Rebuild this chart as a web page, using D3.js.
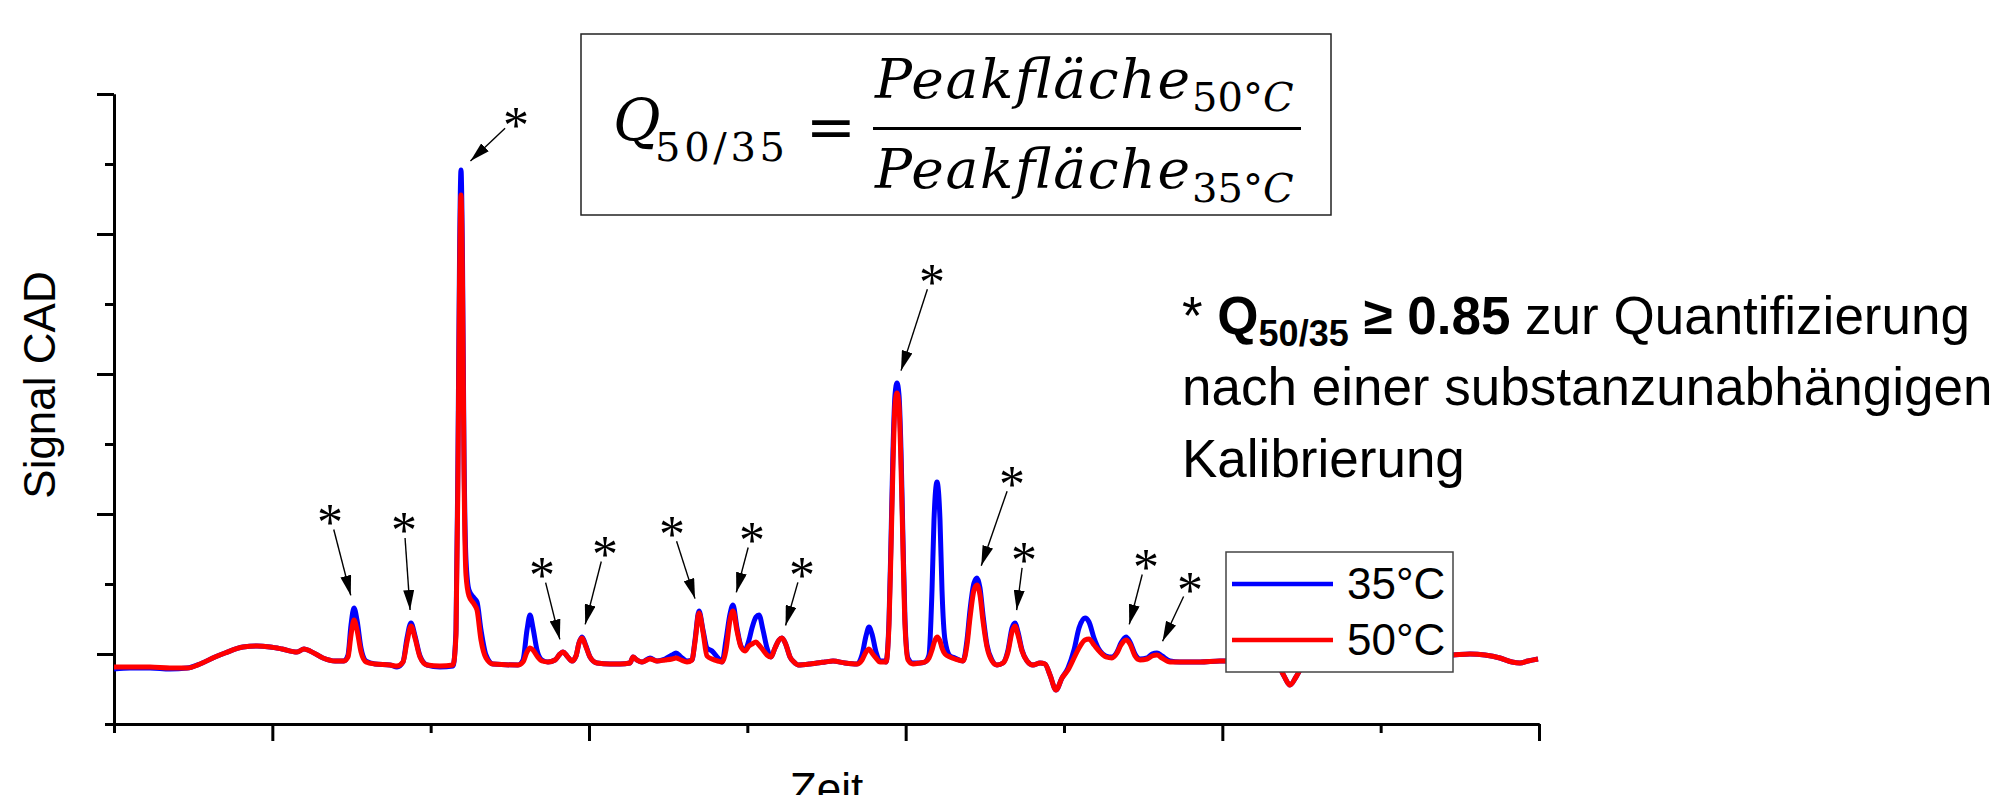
<!DOCTYPE html>
<html>
<head>
<meta charset="utf-8">
<script src="https://cdn.jsdelivr.net/npm/d3@7"></script>
<style>
body { margin: 0; background: #fff; }
svg text { font-family: "Liberation Sans", Arial, sans-serif; white-space: pre; }
</style>
</head>
<body>
<div id="vizDiv"></div>
<script>
var width = 1994
var height = 795

// retention time (min) and CAD signal for both column temperatures
var time = [
  0, 0.32, 0.72, 1.12, 1.46, 1.72, 2.02, 2.22, 2.58, 2.86,
  3.12, 3.36, 3.66, 3.80, 3.92, 4.18, 4.42, 4.60, 4.68, 4.74,
  4.80, 4.86, 4.94, 5.04, 5.22, 5.52, 5.66, 5.78, 5.86, 5.94,
  6.02, 6.12, 6.26, 6.52, 6.78, 6.84, 6.88, 6.91, 6.94, 6.97,
  7.00, 7.04, 7.10, 7.20, 7.26, 7.34, 7.44, 7.58, 8.08, 8.18,
  8.26, 8.32, 8.38, 8.46, 8.56, 8.68, 8.82, 8.92, 8.98, 9.06,
  9.16, 9.24, 9.30, 9.36, 9.44, 9.52, 9.66, 9.92, 10.12, 10.32,
  10.38, 10.46, 10.56, 10.72, 10.86, 11.02, 11.16, 11.24, 11.34, 11.46,
  11.56, 11.62, 11.70, 11.78, 11.86, 11.96, 12.08, 12.16, 12.24, 12.32,
  12.38, 12.46, 12.54, 12.62, 12.70, 12.76, 12.84, 12.90, 12.98, 13.06,
  13.14, 13.22, 13.30, 13.36, 13.44, 13.52, 13.62, 13.68, 13.92, 14.06,
  14.22, 14.38, 14.62, 14.86, 14.96, 15.04, 15.10, 15.16, 15.24, 15.32,
  15.40, 15.44, 15.50, 15.54, 15.58, 15.62, 15.66, 15.70, 15.74, 15.78,
  15.82, 15.88, 15.98, 16.12, 16.22, 16.30, 16.36, 16.40, 16.46, 16.52,
  16.56, 16.62, 16.72, 16.82, 16.98, 17.06, 17.12, 17.20, 17.26, 17.32,
  17.38, 17.46, 17.56, 17.66, 17.78, 17.88, 17.96, 18.02, 18.08, 18.16,
  18.26, 18.38, 18.52, 18.62, 18.72, 18.84, 18.96, 19.08, 19.20, 19.30,
  19.42, 19.50, 19.60, 19.72, 19.84, 19.96, 20.06, 20.14, 20.24, 20.32,
  20.42, 20.52, 20.66, 20.76, 20.86, 20.96, 21.12, 21.32, 21.72, 22.12,
  22.52, 23.12, 23.28, 23.40, 23.52, 23.64, 23.78, 23.92, 24.32, 24.92,
  25.72, 26.78, 27.12, 27.42, 27.72, 27.96, 28.12, 28.28, 28.48
]

var sig35 = [
  5.5, 5.6, 5.6, 5.5, 5.6, 6.0, 6.7, 7.1, 7.7, 7.8,
  7.7, 7.5, 7.2, 7.5, 7.3, 6.6, 6.3, 6.3, 6.9, 9.9,
  11.6, 10.4, 7.6, 6.3, 6.0, 5.9, 5.7, 6.2, 8.6, 10.1,
  8.8, 6.8, 5.9, 5.7, 5.8, 9.4, 27.4, 46.4, 55.4, 46.4,
  27.4, 16.4, 13.4, 12.6, 12.2, 9.4, 6.9, 6.0, 5.9, 6.4,
  9.4, 10.9, 9.6, 7.4, 6.4, 6.2, 6.4, 7.0, 7.2, 6.8,
  6.3, 6.8, 8.1, 8.7, 7.8, 6.7, 6.1, 6.0, 6.0, 6.1,
  6.7, 6.4, 6.2, 6.6, 6.3, 6.5, 6.9, 7.1, 6.7, 6.3,
  6.4, 8.4, 11.3, 9.4, 7.6, 7.3, 6.6, 6.2, 8.4, 11.0,
  11.9, 9.6, 7.8, 7.4, 8.4, 9.6, 10.7, 10.9, 9.4, 7.6,
  6.7, 7.6, 8.4, 8.6, 7.9, 6.7, 6.1, 5.9, 6.0, 6.1,
  6.2, 6.3, 6.1, 6.0, 6.9, 8.8, 9.7, 9.0, 7.2, 6.3,
  6.3, 6.2, 10.4, 18.4, 27.4, 32.9, 34.1, 32.9, 27.4, 18.4,
  10.4, 6.6, 6.1, 6.1, 6.2, 6.9, 13.4, 20.4, 24.2, 20.4,
  13.4, 8.4, 6.8, 6.6, 6.3, 8.4, 11.4, 14.1, 14.6, 13.6,
  10.9, 7.9, 6.4, 5.9, 6.1, 7.4, 9.6, 10.1, 9.2, 7.4,
  6.3, 5.9, 6.1, 6.0, 4.9, 3.4, 4.6, 5.6, 7.4, 9.6,
  10.6, 10.2, 8.6, 7.3, 6.8, 6.7, 7.2, 8.1, 8.7, 8.2,
  7.0, 6.5, 6.6, 7.0, 7.1, 6.8, 6.3, 6.2, 6.2, 6.3,
  6.3, 6.3, 5.9, 4.8, 3.9, 4.7, 5.9, 6.4, 6.5, 6.6,
  6.7, 6.9, 7.0, 6.9, 6.6, 6.2, 6.1, 6.3, 6.5
]

var sig50 = [
  5.7, 5.7, 5.7, 5.6, 5.6, 6.0, 6.7, 7.1, 7.7, 7.8,
  7.7, 7.5, 7.2, 7.5, 7.3, 6.6, 6.3, 6.3, 6.7, 8.9,
  10.4, 9.4, 7.2, 6.2, 6.0, 5.9, 5.8, 6.2, 8.2, 9.8,
  8.6, 6.7, 5.9, 5.8, 5.9, 8.9, 25.4, 43.9, 52.9, 43.9,
  25.4, 14.9, 12.8, 12.0, 11.4, 8.4, 6.6, 6.0, 5.9, 6.2,
  7.2, 7.6, 7.4, 6.8, 6.3, 6.2, 6.4, 7.0, 7.2, 6.8,
  6.3, 6.8, 8.1, 8.6, 7.7, 6.7, 6.1, 6.0, 6.0, 6.1,
  6.7, 6.4, 6.2, 6.5, 6.3, 6.4, 6.5, 6.6, 6.4, 6.2,
  6.4, 8.2, 11.1, 9.2, 6.8, 6.5, 6.3, 6.2, 7.4, 10.4,
  11.3, 9.3, 7.7, 7.3, 7.8, 8.0, 8.2, 7.9, 7.4, 6.9,
  6.7, 7.6, 8.4, 8.6, 7.9, 6.7, 6.1, 5.9, 6.0, 6.1,
  6.2, 6.3, 6.1, 6.0, 6.4, 7.2, 7.5, 7.1, 6.6, 6.2,
  6.2, 6.2, 9.9, 17.4, 25.9, 31.9, 33.1, 31.9, 25.9, 17.4,
  9.9, 6.4, 6.0, 6.1, 6.2, 6.6, 7.4, 8.1, 8.7, 8.3,
  7.6, 7.0, 6.7, 6.5, 6.3, 7.9, 10.6, 13.4, 13.9, 12.9,
  10.3, 7.7, 6.3, 5.9, 6.1, 7.2, 9.2, 9.8, 8.9, 7.3,
  6.3, 5.9, 6.1, 6.0, 4.9, 3.4, 4.6, 5.4, 6.6, 7.6,
  8.4, 8.5, 7.9, 7.2, 6.7, 6.6, 7.1, 7.9, 8.4, 8.0,
  6.8, 6.4, 6.5, 6.8, 6.9, 6.6, 6.2, 6.2, 6.2, 6.3,
  6.3, 6.3, 5.9, 4.8, 3.9, 4.7, 5.9, 6.4, 6.5, 6.6,
  6.7, 6.9, 7.0, 6.9, 6.6, 6.2, 6.1, 6.3, 6.5
]

var seriesNames = ["35°C", "50°C"]
var seriesColors = ["#0000ff", "#ff0000"]

// unlabeled ticks, every other one is a major tick
var xTicks = d3.range(10).map(function(i) { return i * 28.5 / 9 })
var yTicks = d3.range(10).map(function(i) { return i * 63 / 9 })

// peaks with Q >= 0.85 (retention times)
var markedPeaks = [4.80, 5.94, 6.94, 8.98, 9.36, 11.70, 12.38, 13.36, 15.66, 17.26, 18.02, 20.24, 20.86]
// star position relative to the peak top (px)
var starOffset = [[-24, -93], [-7, -100], [55, -52], [-21, -84], [23, -90], [-27, -84], [19, -72],
                  [20, -70], [35, -108], [35, -101], [9, -70], [20, -77], [33, -70]]

var plotLeft = 114, plotRight = 1539, plotTop = 94, plotBottom = 724

var x = d3.scaleLinear().domain([0, 28.5]).range([plotLeft, plotRight])
var y = d3.scaleLinear().domain([0, 63]).range([plotBottom, plotTop])

var svg = d3.select("#vizDiv")
  .append("svg")
  .attr("width", width)
  .attr("height", height)
  .style("display", "block")
  .style("background", "#fff")

svg.append("defs")
  .append("marker")
  .attr("id", "arrowHead")
  .attr("viewBox", [0, 0, 20, 11])
  .attr("refX", 20)
  .attr("refY", 5.5)
  .attr("markerWidth", 20)
  .attr("markerHeight", 11)
  .attr("markerUnits", "userSpaceOnUse")
  .attr("orient", "auto")
  .append("path")
  .attr("d", "M0,0L20,5.5L0,11Z")
  .attr("fill", "black")

// axes: minor ticks first, then major ticks with the axis line
var majorX = xTicks.filter(function(d, i) { return i % 2 == 1 })
var minorX = xTicks.filter(function(d, i) { return i % 2 == 0 })
var majorY = yTicks.filter(function(d, i) { return i % 2 == 1 })
var minorY = yTicks.filter(function(d, i) { return i % 2 == 0 })

function styleAxis(g) {
  g.selectAll("path, line").attr("stroke", "black").attr("stroke-width", 3)
  g.selectAll("text").remove()
}

svg.append("g")
  .attr("transform", "translate(0," + plotBottom + ")")
  .call(d3.axisBottom(x).tickValues(minorX).tickSize(9).tickSizeOuter(0).tickFormat(""))
  .call(styleAxis)
svg.append("g")
  .attr("transform", "translate(0," + plotBottom + ")")
  .call(d3.axisBottom(x).tickValues(majorX).tickSize(17).tickSizeOuter(0).tickFormat(""))
  .call(styleAxis)
svg.append("g")
  .attr("transform", "translate(" + plotLeft + ",0)")
  .call(d3.axisLeft(y).tickValues(minorY).tickSize(9).tickSizeOuter(0).tickFormat(""))
  .call(styleAxis)
svg.append("g")
  .attr("transform", "translate(" + plotLeft + ",0)")
  .call(d3.axisLeft(y).tickValues(majorY).tickSize(17).tickSizeOuter(0).tickFormat(""))
  .call(styleAxis)

svg.append("text")
  .attr("transform", "translate(55,385) rotate(-90)")
  .attr("text-anchor", "middle")
  .style("font-size", "44px")
  .text("Signal CAD")

svg.append("text")
  .attr("x", (plotLeft + plotRight) / 2)
  .attr("y", 804)
  .attr("text-anchor", "middle")
  .style("font-size", "44px")
  .text("Zeit")

// chromatograms
var series = [sig35, sig50]
var line = d3.line()
  .x(function(d, i) { return x(time[i]) })
  .y(function(d) { return y(d) })
  .curve(d3.curveMonotoneX)

series.forEach(function(s, k) {
  svg.append("path")
    .attr("d", line(s))
    .attr("fill", "none")
    .attr("stroke", seriesColors[k])
    .attr("stroke-width", 5)
    .attr("stroke-linejoin", "round")
})

// stars with arrows to the marked peaks
markedPeaks.forEach(function(t, k) {
  var idx = d3.minIndex(time, function(v) { return Math.abs(v - t) })
  var px = x(time[idx]), py = y(sig35[idx])
  var sx = px + starOffset[k][0], sy = py + starOffset[k][1]
  var dx = px - sx, dy = py - sy
  var len = Math.sqrt(dx * dx + dy * dy)
  var ux = dx / len, uy = dy / len

  svg.append("line")
    .attr("x1", sx + ux * 15)
    .attr("y1", sy + uy * 15)
    .attr("x2", px - ux * 13)
    .attr("y2", py - uy * 13)
    .attr("stroke", "black")
    .attr("stroke-width", 1.4)
    .attr("marker-end", "url(#arrowHead)")

  svg.append("text")
    .attr("x", sx)
    .attr("y", sy + 25)
    .attr("text-anchor", "middle")
    .style("font-family", "'Liberation Serif', 'Times New Roman', serif")
    .style("font-size", "52px")
    .text("*")
})

// legend
var legend = svg.append("g")
legend.append("rect")
  .attr("x", 1226).attr("y", 552)
  .attr("width", 227).attr("height", 120)
  .attr("fill", "white")
  .attr("stroke", "#444")
  .attr("stroke-width", 1.5)

seriesNames.forEach(function(name, k) {
  var ly = 584 + k * 56
  legend.append("line")
    .attr("x1", 1232).attr("x2", 1333)
    .attr("y1", ly).attr("y2", ly)
    .attr("stroke", seriesColors[k])
    .attr("stroke-width", 4.5)
  legend.append("text")
    .attr("x", 1347)
    .attr("y", ly + 15)
    .style("font-size", "44px")
    .text(name)
})

// formula box
var mathFont = "'DejaVu Serif', 'Liberation Serif', serif"
var box = svg.append("g").style("font-family", mathFont)
box.append("rect")
  .attr("x", 581).attr("y", 34)
  .attr("width", 750).attr("height", 181)
  .attr("fill", "none")
  .attr("stroke", "#222")
  .attr("stroke-width", 1.5)

box.append("text").attr("x", 613).attr("y", 140)
  .style("font-family", mathFont).style("font-style", "italic").style("font-size", "58px")
  .text("Q")
box.append("text").attr("x", 655).attr("y", 161)
  .attr("textLength", 130).attr("lengthAdjust", "spacing")
  .style("font-family", mathFont).style("font-size", "40px")
  .text("50/35")
box.append("text").attr("x", 831).attr("y", 147)
  .attr("text-anchor", "middle")
  .style("font-family", mathFont).style("font-size", "60px")
  .text("=")
box.append("line")
  .attr("x1", 873).attr("x2", 1301)
  .attr("y1", 128.5).attr("y2", 128.5)
  .attr("stroke", "black").attr("stroke-width", 3)

var fracRows = [["50", 98, 111], ["35", 188, 202]]
fracRows.forEach(function(r) {
  box.append("text").attr("x", 875).attr("y", r[1])
    .attr("textLength", 315).attr("lengthAdjust", "spacing")
    .style("font-family", mathFont).style("font-style", "italic").style("font-size", "55px")
    .text("Peakfläche")
  var sub = box.append("text").attr("x", 1192).attr("y", r[2])
    .style("font-family", mathFont).style("font-size", "40px")
  sub.append("tspan").text(r[0] + "°")
  sub.append("tspan").style("font-style", "italic").text("C")
})

// note on the right
var note = svg.append("g").style("font-size", "53px")
var l1 = note.append("text").attr("x", 1182).attr("y", 334)
l1.append("tspan").text("* ")
l1.append("tspan").style("font-weight", "bold").text("Q")
l1.append("tspan").style("font-weight", "bold").style("font-size", "36px").attr("dy", 12).text("50/35")
l1.append("tspan").style("font-weight", "bold").attr("dy", -12).text(" ≥ 0.85")
l1.append("tspan").text(" zur Quantifizierung")
note.append("text").attr("x", 1182).attr("y", 405).text("nach einer substanzunabhängigen")
note.append("text").attr("x", 1182).attr("y", 477).text("Kalibrierung")
</script>
</body>
</html>
